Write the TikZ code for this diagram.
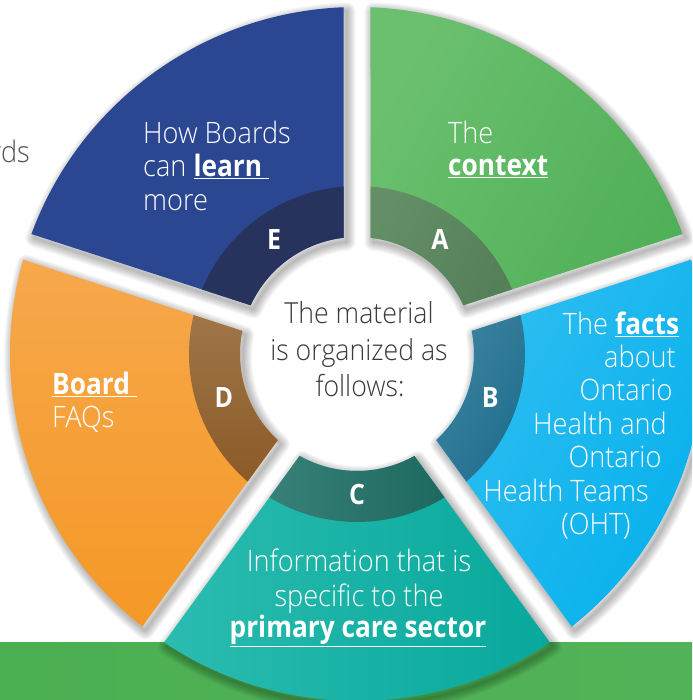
\documentclass[tikz,border=0pt]{standalone}
\usepackage{fontspec}
\setmainfont{Open Sans}[UprightFont={* Light}, BoldFont={* Bold}, FakeStretch=0.92, BoldFeatures={FakeStretch=0.89}]
\usetikzlibrary{calc}
\definecolor{eMain}{HTML}{2B4792}
\definecolor{eRing}{HTML}{27325D}
\definecolor{aMainL}{HTML}{6BC06F}
\definecolor{aMainD}{HTML}{50B057}
\definecolor{aRingL}{HTML}{648E65}
\definecolor{aRingD}{HTML}{557F59}
\definecolor{bMainL}{HTML}{2FBEF1}
\definecolor{bMainD}{HTML}{05B0EC}
\definecolor{bRingL}{HTML}{3C84A0}
\definecolor{bRingD}{HTML}{1E6C8B}
\definecolor{cMainL}{HTML}{2BBCB0}
\definecolor{cMainD}{HTML}{08A89C}
\definecolor{cRingL}{HTML}{388078}
\definecolor{cRingD}{HTML}{1D685F}
\definecolor{dMainL}{HTML}{F6A84B}
\definecolor{dMainD}{HTML}{F59826}
\definecolor{dRingL}{HTML}{9F7549}
\definecolor{dRingD}{HTML}{8B5B27}
\definecolor{barL}{HTML}{4CAF52}
\definecolor{barM}{HTML}{6ABF6E}
\definecolor{barR}{HTML}{52B257}
\definecolor{textgray}{HTML}{3A3A3A}
\definecolor{sidegray}{HTML}{555555}
\newcommand\ulb[1]{\underline{\textbf{#1}}}
% annular sector between boundary angles #1,#2, radii #3 (inner) #4 (outer), gap half width 13.5
\newcommand\segp[4]{({#1+asin(13.5/#4)}:#4pt) arc[start angle={#1+asin(13.5/#4)}, end angle={#2-asin(13.5/#4)}, radius=#4pt] -- ({#2-asin(13.5/#3)}:#3pt) arc[start angle={#2-asin(13.5/#3)}, end angle={#1+asin(13.5/#3)}, radius=#3pt] -- cycle}
\tikzset{
  lt/.style={text=white, font=\fontsize{29.5}{33}\selectfont, inner sep=0pt},
  ctr/.style={text=textgray, font=\fontsize{29}{33}\selectfont, inner sep=0pt, anchor=base},
  letter/.style={text=white, font=\fontsize{28}{30}\selectfont\bfseries, inner sep=0pt},
  halo/.style={line width=#1, black, opacity=0.03, line join=round, xshift=3pt, yshift=-4pt}
}
\begin{document}
\begin{tikzpicture}[x=1pt,y=1pt]
\useasboundingbox (0,0) rectangle (692,700);
\clip (0,0) rectangle (692,700);
\fill[white] (0,0) rectangle (692,700);
% side text (cut off at the left edge, as in the reference)
\node[text=sidegray, font=\fontsize{29.5}{33}\selectfont, inner sep=0pt, anchor=base east] (side) at (30,537) {Boards};
% green bar
\shade[left color=barL, middle color=barM, right color=barR] (0,0) rectangle (692,57);
\begin{scope}[shift={(357,346)}]
  \coordinate (O) at (0,0);
  % shadows
  \foreach \w in {2,4,...,18}{
    \draw[halo=\w pt] \segp{90}{162}{117}{347};
    \draw[halo=\w pt] \segp{18}{90}{117}{347};
    \draw[halo=\w pt] \segp{-54}{18}{117}{347};
    \draw[halo=\w pt] \segp{-126}{-54}{117}{347};
    \draw[halo=\w pt] \segp{162}{234}{117}{347};
  }
  % E
  \fill[eMain] \segp{90}{162}{117}{347};
  \fill[eRing] \segp{90}{162}{117}{168};
  % A
  \shade[left color=aMainL, right color=aMainD, shading angle=60] \segp{18}{90}{117}{347};
  \shade[left color=aRingL, right color=aRingD, shading angle=60] \segp{18}{90}{117}{168};
  % B
  \shade[left color=bMainL, right color=bMainD, shading angle=60] \segp{-54}{18}{117}{347};
  \shade[left color=bRingL, right color=bRingD, shading angle=60] \segp{-54}{18}{117}{168};
  % C
  \shade[left color=cMainL, right color=cMainD, shading angle=90] \segp{-126}{-54}{117}{347};
  \shade[left color=cRingL, right color=cRingD, shading angle=90] \segp{-126}{-54}{117}{168};
  % D
  \shade[top color=dMainL, bottom color=dMainD] \segp{162}{234}{117}{347};
  \shade[top color=dRingL, bottom color=dRingD] \segp{162}{234}{117}{168};
  % letters
  \node[letter] (lE) at (126:141) {E};
  \node[letter] (lA) at (54:141) {A};
  \node[letter] (lB) at (-18:140) {B};
  \node[letter] (lC) at (-90:141) {C};
  \node[letter] (lD) at (198:140) {D};
\end{scope}
% E text
\node[lt, anchor=base west] (e1) at (143,556) {How Boards};
\node[lt, anchor=base west] (e2) at (143,523) {can \ulb{learn\ }};
\node[lt, anchor=base west] (e3) at (143,489) {more};
% A text
\node[lt, anchor=base west] (a1) at (448,556) {The};
\node[lt, anchor=base west] (a2) at (448,524) {\ulb{context}};
% B text
\node[lt, anchor=base] (b1) at (621,365) {The \ulb{facts}};
\node[lt, anchor=base] (b2) at (640,332) {about};
\node[lt, anchor=base] (b3) at (626,299) {Ontario};
\node[lt, anchor=base] (b4) at (600,265) {Health and};
\node[lt, anchor=base] (b5) at (615,232) {Ontario};
\node[lt, anchor=base] (b6) at (566,198) {Health Teams};
\node[lt, anchor=base] (b7) at (596,165) {(OHT)};
% C text
\node[lt, anchor=base] (c1) at (359,128) {Information that is};
\node[lt, anchor=base] (c2) at (359,93) {specific to the};
\node[lt, anchor=base] (c3) at (358,62) {\ulb{primary care sector}};
% D text
\node[lt, anchor=base west] (d1) at (52,305) {\ulb{Board\ }};
\node[lt, anchor=base west] (d2) at (52,272) {FAQs};
% centre text
\node[ctr] (m1) at (359,376) {The material};
\node[ctr] (m2) at (359,339) {is organized as};
\node[ctr] (m3) at (360,303) {follows:};
\end{tikzpicture}
\end{document}
